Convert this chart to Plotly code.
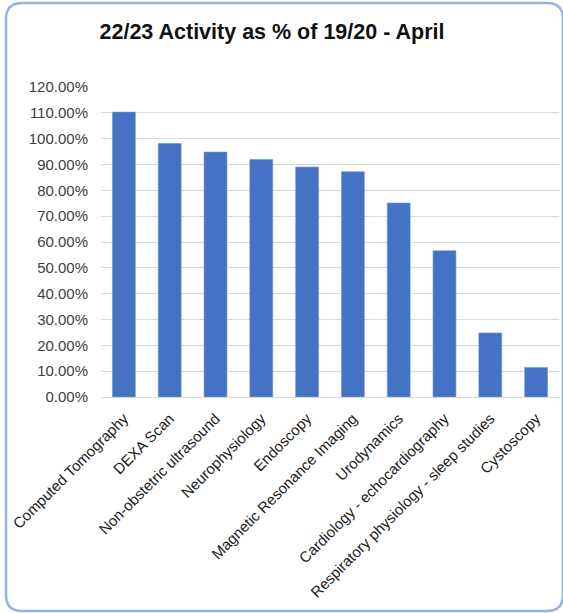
import plotly.graph_objects as go

categories = ["Computed Tomography", "DEXA Scan", "Non-obstetric ultrasound",
              "Neurophysiology", "Endoscopy", "Magnetic Resonance Imaging",
              "Urodynamics", "Cardiology - echocardiography",
              "Respiratory physiology - sleep studies", "Cystoscopy"]
values = [1.103, 0.981, 0.948, 0.919, 0.890, 0.872, 0.751, 0.566, 0.248, 0.114]
tick_vals = [i / 10 for i in range(13)]

W, H = 563, 613
ML, MR, MT, MB = 101, 4, 87, 216
PW, PH = W - ML - MR, H - MT - MB

def px(x):
    return (x - ML) / PW

def py(y):
    return (H - MB - y) / PH

def rounded_rect(x0, y0, x1, y1, r):
    rx, ry = r / PW, r / PH
    X0, X1 = px(x0), px(x1)
    Y0, Y1 = py(y0), py(y1)
    return (f"M {X0+rx},{Y0} L {X1-rx},{Y0} Q {X1},{Y0} {X1},{Y0-ry} "
            f"L {X1},{Y1+ry} Q {X1},{Y1} {X1-rx},{Y1} "
            f"L {X0+rx},{Y1} Q {X0},{Y1} {X0},{Y1+ry} "
            f"L {X0},{Y0-ry} Q {X0},{Y0} {X0+rx},{Y0} Z")

fig = go.Figure(go.Bar(x=categories, y=values, marker_color="#4472C4",
                       marker_line_color="#6f93d4", marker_line_width=0.6))

fig.update_layout(
    width=W, height=H,
    margin=dict(l=ML, r=MR, t=MT, b=MB),
    paper_bgcolor="white", plot_bgcolor="white",
    bargap=0.5, showlegend=False,
    font=dict(family="Liberation Sans, Arial", color="#404040"),
    title=dict(text="<b>22/23 Activity as % of 19/20 - April</b>",
               x=272 / W, xanchor="center", y=1 - 31 / H, yanchor="middle",
               xref="container", yref="container",
               font=dict(size=21.5, color="#111111", family="Liberation Sans, Arial")),
    shapes=[dict(type="path", xref="paper", yref="paper",
                 path=rounded_rect(6, 3, 563, 611, 16),
                 line=dict(color="#94b3e3", width=2.5), layer="above")],
)
fig.update_yaxes(range=[0, 1.2], tickvals=tick_vals, tickformat=".2%",
                 showgrid=True, gridcolor="#d9d9d9", gridwidth=1,
                 zeroline=False, showline=False, ticks="",
                 ticklabelstandoff=12,
                 tickfont=dict(size=15, color="#404040"))
fig.update_xaxes(tickangle=-45, showline=True, linecolor="#d9d9d9", linewidth=1,
                 ticks="", ticklabelstandoff=6,
                 tickfont=dict(size=15, color="#1a1a1a"))

fig.write_html("out.html")
